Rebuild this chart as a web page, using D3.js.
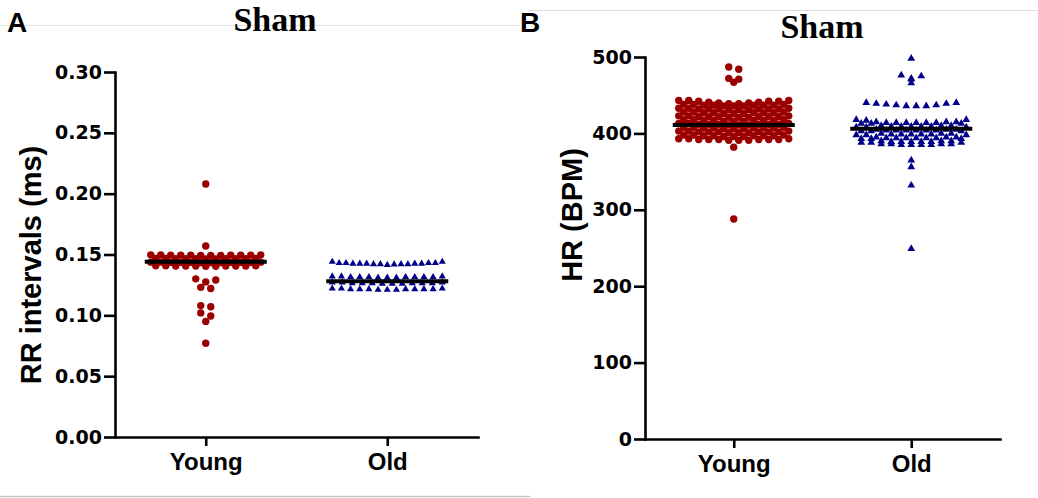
<!DOCTYPE html>
<html>
<head>
<meta charset="utf-8">
<script src="https://cdn.jsdelivr.net/npm/d3@7/dist/d3.min.js"></script>
<style>
  html, body { margin: 0; padding: 0; background: #fff; }
  svg { display: block; }
</style>
</head>
<body>
<svg id="chart" width="1038" height="498"></svg>
<script>
// Groups on the x axis
const categories = ["Young", "Old"];

// RR intervals (s) per animal, Sham group
const rrYoung = [
  0.208, 0.157,
  0.1497, 0.1495, 0.1495, 0.1493, 0.1495, 0.1497, 0.1495, 0.1493, 0.1495, 0.1495, 0.1497, 0.1493,
  0.1467, 0.1465, 0.1465, 0.1463, 0.1465, 0.1467, 0.1465, 0.1463, 0.1465, 0.1467, 0.1465,
  0.1437, 0.1435, 0.1435, 0.1433, 0.1435, 0.1437, 0.1435, 0.1433, 0.1435, 0.1437, 0.1435, 0.1433,
  0.1407, 0.1405, 0.1405, 0.1403, 0.1405, 0.1407, 0.1405, 0.1403, 0.1405, 0.1407, 0.1405,
  0.130, 0.129, 0.1275, 0.123, 0.122,
  0.108, 0.107, 0.102, 0.0995, 0.095, 0.077
];
const rrOld = [
  0.1440, 0.1425, 0.1430, 0.1420, 0.1425, 0.1418, 0.1420, 0.1430, 0.1415,
  0.1425, 0.1420, 0.1430, 0.1425, 0.1420, 0.1430, 0.1425, 0.1440,
  0.1320, 0.1315, 0.1315, 0.1310, 0.1315, 0.1320, 0.1315, 0.1310, 0.1315, 0.1320, 0.1315, 0.1310, 0.1315,
  0.1270, 0.1265, 0.1265, 0.1260, 0.1265, 0.1270, 0.1265, 0.1260, 0.1265, 0.1270, 0.1265, 0.1260,
  0.1220, 0.1215, 0.1215, 0.1210, 0.1215, 0.1220, 0.1215, 0.1210, 0.1215, 0.1220, 0.1215, 0.1210, 0.1215
];

// Heart rate (BPM) per animal, Sham group
const hrYoung = [
  487, 484, 472, 471, 467,
  443, 442, 442, 441, 443, 441, 440, 440, 439, 439, 442, 443,
  438, 437, 437, 436, 437, 438, 436, 437, 437, 438, 436,
  433, 432, 432, 431, 432, 433, 431, 432, 432, 433, 431, 432,
  428, 427, 427, 426, 427, 428, 426, 427, 427, 428, 426,
  423, 422, 422, 421, 422, 423, 421, 422, 422, 423, 421, 422,
  418, 417, 417, 416, 417, 418, 416, 417, 417, 418, 416,
  413, 412, 412, 411, 412, 413, 411, 412, 412, 413, 411, 412,
  408, 407, 407, 406, 407, 408, 406, 407, 407, 408, 406,
  403, 402, 402, 401, 402, 403, 401, 402, 402, 403, 401, 402,
  398, 397, 397, 396, 397, 398, 396, 397, 397, 398, 396,
  393, 392, 392, 391, 392, 393, 391, 392, 392, 393, 391, 392,
  382, 288
];
const hrOld = [
  498, 476, 475, 472, 471, 466,
  440, 440, 439, 439, 438, 437, 436, 436, 436, 437,
  418, 417, 418,
  415, 414, 414, 413, 414, 415, 413, 414, 414, 415, 413, 414,
  410, 409, 409, 408, 409, 410, 408, 409, 409, 410, 408,
  405, 404, 404, 403, 404, 405, 403, 404, 404, 405, 403, 404,
  400, 399, 399, 398, 399, 400, 398, 399, 399, 400, 398,
  395, 394, 394, 393, 394, 395, 393, 394, 394, 395, 393, 394,
  390, 389, 389, 388, 389, 390, 388, 389, 389, 390, 388,
  386, 385, 385, 386, 385, 386, 385, 386,
  365, 356, 332, 249
];

// Horizontal centre line of each group
const rrCenterLines = [0.144, 0.128];
const hrCenterLines = [411, 406];

// Axis ticks
const rrTicks = [0, 0.05, 0.10, 0.15, 0.20, 0.25, 0.30];
const hrTicks = [0, 100, 200, 300, 400, 500];

const RED = "#9a0000";
const BLUE = "#000088";

const svg = d3.select("#chart");
svg.append("rect").attr("width", 1038).attr("height", 498).attr("fill", "#fff");

// thin rules framing the figure
svg.append("line").attr("x1", 0).attr("x2", 520).attr("y1", 25.5).attr("y2", 25.5)
  .attr("stroke", "#e6e6e6").attr("stroke-width", 1);
svg.append("line").attr("x1", 528).attr("x2", 1038).attr("y1", 10.5).attr("y2", 10.5)
  .attr("stroke", "#dcdcdc").attr("stroke-width", 1);
svg.append("line").attr("x1", 0).attr("x2", 530).attr("y1", 496.5).attr("y2", 496.5)
  .attr("stroke", "#c4c4c4").attr("stroke-width", 1.5);

// Column scatter: points within one row band are spread side by side,
// the band being squeezed when it would exceed the column width.
function columnScatter(values, y, cx, band, spacing, maxSpan) {
  const pts = values.map(v => ({ v, y: y(v) })).sort((a, b) => a.y - b.y);
  const rows = [];
  let cur = null;
  for (const p of pts) {
    if (!cur || p.y - cur[0].y >= band) { cur = [p]; rows.push(cur); }
    else cur.push(p);
  }
  rows.forEach(row => {
    const n = row.length;
    const step = n > 1 ? Math.min(spacing, maxSpan / (n - 1)) : 0;
    const slots = d3.range(n).map(i => (i - (n - 1) / 2) * step);
    const order = [];
    let lo = 0, hi = n - 1;
    while (lo <= hi) { order.push(lo++); if (lo <= hi) order.push(hi--); }
    row.forEach((p, k) => { p.x = cx + slots[order[k]]; });
  });
  return pts;
}

function drawPanel(cfg) {
  const g = svg.append("g");
  const y = d3.scaleLinear().domain(cfg.domain).range([cfg.yBottom, cfg.yTop]);
  const x = d3.scalePoint().domain(categories).range([cfg.xLeft, cfg.xRight]).padding(0.5);

  // panel letter and title
  g.append("text").attr("x", cfg.letterX).attr("y", cfg.letterY)
    .attr("font-family", "Liberation Sans, Arial, sans-serif").attr("font-weight", "bold")
    .attr("font-size", 28).attr("fill", "#000").text(cfg.letter);
  g.append("text").attr("x", cfg.titleX).attr("y", cfg.titleY).attr("text-anchor", "middle")
    .attr("font-family", "Liberation Serif, Times New Roman, serif").attr("font-weight", "bold")
    .attr("font-size", 34).attr("fill", "#000").text("Sham");

  // y axis
  const yAxis = g.append("g").attr("transform", `translate(${cfg.xLeft},0)`)
    .call(d3.axisLeft(y).tickValues(cfg.ticks).tickSize(11).tickSizeOuter(0)
      .tickPadding(2).tickFormat(cfg.format));
  // x axis
  const xAxis = g.append("g").attr("transform", `translate(0,${cfg.yBottom})`)
    .call(d3.axisBottom(x).tickSize(9).tickSizeOuter(0).tickPadding(7));

  [yAxis, xAxis].forEach(a => {
    a.select(".domain").attr("stroke", "#000").attr("stroke-width", 2.6).attr("stroke-linecap", "square");
    a.selectAll(".tick line").attr("stroke", "#000").attr("stroke-width", 2.6);
  });
  yAxis.selectAll(".tick text").attr("fill", "#000")
    .attr("font-family", "DejaVu Sans, sans-serif").attr("font-weight", "bold").attr("font-size", 19);
  xAxis.selectAll(".tick text").attr("fill", "#000")
    .attr("font-family", "Liberation Sans, Arial, sans-serif").attr("font-weight", "bold").attr("font-size", 24);

  // y axis title
  g.append("text")
    .attr("transform", `translate(${cfg.yTitleX},${cfg.yTitleY}) rotate(-90)`)
    .attr("text-anchor", "middle")
    .attr("font-family", "Liberation Sans, Arial, sans-serif").attr("font-weight", "bold")
    .attr("font-size", 29).attr("fill", "#000").text(cfg.yTitle);

  // points
  const groups = [
    { key: "Young", values: cfg.young, color: RED, shape: "circle" },
    { key: "Old", values: cfg.old, color: BLUE, shape: "triangle" }
  ];
  groups.forEach((grp, i) => {
    const pts = columnScatter(grp.values, y, x(grp.key), 3.5, 10, 110);
    if (grp.shape === "circle") {
      g.append("g").selectAll("circle").data(pts).join("circle")
        .attr("cx", d => d.x).attr("cy", d => d.y).attr("r", 3.7).attr("fill", grp.color);
    } else {
      const sym = d3.symbol(d3.symbolTriangle, cfg.triSize);
      g.append("g").selectAll("path").data(pts).join("path")
        .attr("transform", d => `translate(${d.x},${d.y})`).attr("d", sym).attr("fill", grp.color);
    }
    g.append("line")
      .attr("x1", x(grp.key) - 61).attr("x2", x(grp.key) + 61)
      .attr("y1", y(cfg.centers[i])).attr("y2", y(cfg.centers[i]))
      .attr("stroke", "#000").attr("stroke-width", 4);
  });
}

drawPanel({
  letter: "A", letterX: 7, letterY: 32,
  titleX: 275, titleY: 31,
  domain: [0, 0.30], ticks: rrTicks, format: d3.format(".2f"),
  xLeft: 115, xRight: 478, yTop: 72, yBottom: 437,
  yTitle: "RR intervals (ms)", yTitleX: 41, yTitleY: 265,
  young: rrYoung, old: rrOld, centers: rrCenterLines, triSize: 22
});

drawPanel({
  letter: "B", letterX: 520, letterY: 32,
  titleX: 822, titleY: 38,
  domain: [0, 500], ticks: hrTicks, format: d3.format("d"),
  xLeft: 645, xRight: 1000, yTop: 57, yBottom: 439,
  yTitle: "HR (BPM)", yTitleX: 582, yTitleY: 215,
  young: hrYoung, old: hrOld, centers: hrCenterLines, triSize: 26
});
</script>
</body>
</html>
